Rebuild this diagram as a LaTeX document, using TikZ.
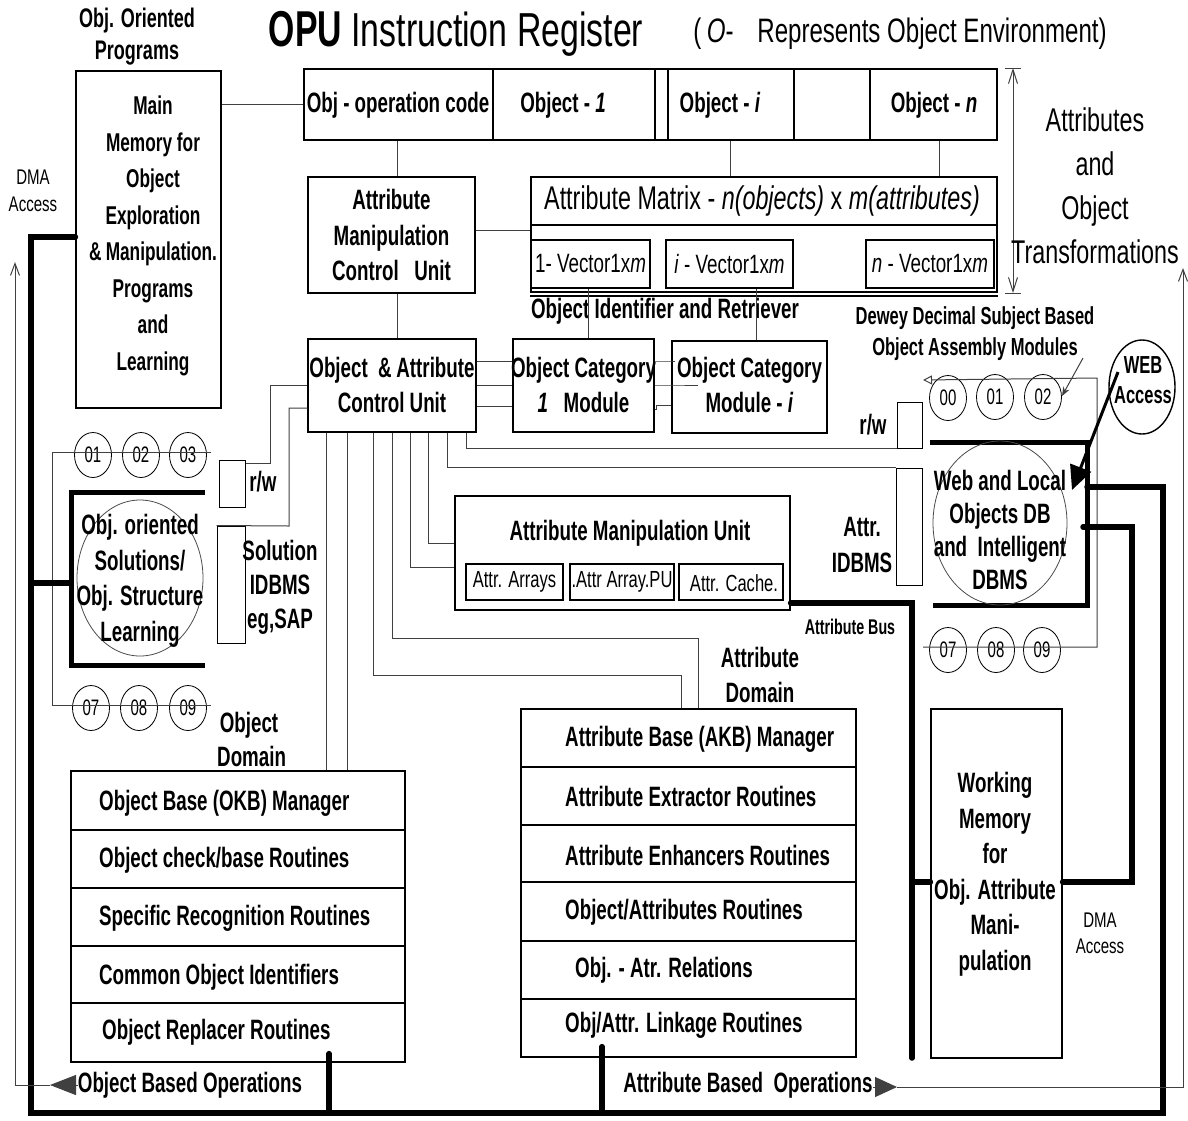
\documentclass[tikz,border=0pt]{standalone}
\usepackage{fontspec}
\setmainfont{Liberation Sans}[Scale=1.06,FakeStretch=0.71]
\newfontfamily\bcond{Liberation Sans}[Scale=1.12,FakeStretch=0.67]
\usetikzlibrary{shapes.geometric,arrows.meta,calc}
\newcommand\myfs[2]{\fontsize{#1}{#2}\selectfont}
\newcommand\bc{\bcond\bfseries}
\begin{document}
\begin{tikzpicture}[x=1pt,y=-1pt,
 box/.style={draw,line width=1.2pt,inner sep=0pt,rectangle},
 tbox/.style={draw,line width=2.2pt,inner sep=0pt,rectangle},
 lbl/.style={inner sep=0pt,align=center,font=\bc\myfs{25}{35.5}},
 rlbl/.style={inner sep=0pt,align=center,font=\myfs{25}{30}},
 thin/.style={line width=1pt,black!75},
 bus/.style={line width=5.5pt,line cap=round},
 oval/.style={draw,ellipse,line width=0.8pt,inner sep=0pt,minimum width=37pt,minimum height=45pt,font=\bcond\myfs{20}{20}},
 barb/.style={-{Straight Barb[length=12pt,width=9pt]}},
]
\fill[white] (0,0) rectangle (1188,1120);
\useasboundingbox (0,0) rectangle (1188,1120);

% ---------- titles
\node[inner sep=0pt,font=\myfs{45}{45}] (title) at (456,34) {{\bc OPU} Instruction Register};
\node[inner sep=0pt,font=\myfs{32}{32}] (env) at (900,34) {(\,\textit{O}-\enspace\ Represents Object Environment)};
\node[lbl,font=\bc\myfs{24}{32}] (oop) at (137,37) {Obj. Oriented\\Programs};

% ---------- main memory
\node[box,minimum width=145pt,minimum height=337pt] (mm) at (148.5,239.5) {};
\node[lbl,font=\bc\myfs{23}{36.5}] (mmt) at (153,236) {Main\\Memory for\\Object\\Exploration\\\&\,Manipulation.\\Programs\\and\\Learning};

% ---------- instruction register
\node[box,minimum width=693pt,minimum height=71pt] (ir) at (650.5,104.5) {};
\foreach \x in {493,655,668,794,870} \draw[line width=1.2pt] (ir.north -| \x,0) -- (ir.south -| \x,0);
\node[lbl] (irop) at (398,105) {Obj - operation code};
\node[lbl] (ir1) at (563,105) {Object - \textit{1}};
\node[lbl] (iri) at (720,105) {Object - \textit{i}};
\node[lbl] (irn) at (934,105) {Object - \textit{n}};
\draw[thin] (ir.west) -- (ir.west -| mm.east);

% ---------- attribute manipulation control unit
\node[box,minimum width=167pt,minimum height=116pt] (amcu) at (391.5,235) {};
\node[lbl] (amcut) at (amcu) {Attribute\\Manipulation\\Control~~~Unit};
\draw[thin] (ir.south -| 397,0) -- (amcu.north -| 397,0);

% ---------- attribute matrix
\node[tbox,minimum width=466pt,minimum height=115pt] (am) at (764,234.5) {};
\draw[line width=2.2pt] (am.west |- 0,225) -- (am.east |- 0,225);
\draw[line width=1.2pt] (am.west |- 0,296) -- (am.east |- 0,296);
\node[inner sep=0pt,font=\myfs{31}{31}] (amt) at (762,201) {Attribute Matrix - \textit{n(objects)} x \textit{m(attributes)}};
\node[tbox,line width=2pt,minimum width=119pt,minimum height=48pt] (v1) at (590.5,264) {};
\node[rlbl] (v1t) at (v1) {1- Vector1x\textit{m}};
\node[tbox,line width=2pt,minimum width=127pt,minimum height=48pt] (vi) at (729.5,264) {};
\node[rlbl] (vit) at (vi) {\textit{i} - Vector1x\textit{m}};
\node[tbox,line width=2pt,minimum width=128pt,minimum height=48pt] (vn) at (930,264) {};
\node[rlbl] (vnt) at (vn) {\textit{n} - Vector1x\textit{m}};
\draw[thin] (ir.south -| 730,0) -- (am.north -| 730,0);
\draw[thin] (ir.south -| 939,0) -- (am.north -| 939,0);
\draw[thin] (amcu.east |- 0,230) -- (am.west |- 0,230);

% ---------- double arrow and transformations
\coordinate (dt) at (1013,68);
\coordinate (db) at (1013,293);
\draw[thin,{Straight Barb[length=14pt,width=9pt]}-{Straight Barb[length=14pt,width=9pt]}] (dt) -- (db);
\draw[thin] ([xshift=-8pt]dt) -- ([xshift=8pt]dt);
\draw[thin] ([xshift=-8pt]db) -- ([xshift=8pt]db);
\node[inner sep=0pt,align=center,font=\myfs{31}{44}] (trans) at (1095,186) {Attributes\\and\\Object\\Transformations};

% ---------- object identifier
\node[lbl] (oir) at (665,311) {Object Identifier and Retriever};
\node[box,minimum width=168pt,minimum height=93pt] (oacu) at (392,385.5) {};
\node[lbl] (oacut) at (392,385) {Object~~\&\,Attribute\\Control Unit};
\node[box,minimum width=141pt,minimum height=93pt] (oc1) at (583.5,385.5) {};
\node[lbl] (oc1t) at (583.5,385) {Object Category\\\textit{1}~~~Module};
\node[box,minimum width=155pt,minimum height=92pt] (oci) at (749.5,387) {};
\node[lbl] (ocit) at (749.5,385) {Object Category\\Module - \textit{i}};
\draw[thin] (amcu.south -| 397,0) -- (oacu.north -| 397,0);
\draw[thin] (v1.south -| 588,0) -- (oc1.north -| 588,0);
\draw[thin] (vi.south -| 756,0) -- (oci.north -| 756,0);
\draw[thin] (oacu.east |- 0,361) -- (oc1.west |- 0,361);
\draw[thin] (oacu.east |- 0,385) -- (oc1.west |- 0,385);
\draw[thin] (oacu.east |- 0,406) -- (oc1.west |- 0,406);
\draw[thin] (oc1.east |- 0,361) -- (oci.west |- 0,361) -- ++(4,0);
\draw[thin] (oc1.east |- 0,385) -- (oci.west |- 0,385) -- ++(27,0);
\draw[thin] (oc1.east |- 0,409) -- ++(2,0) |- (oci.west |- 0,405);

% ---------- left side: r/w, solution IDBMS
\node[box,line width=1pt,minimum width=26pt,minimum height=47pt] (rw1) at (232,483.5) {};
\node[lbl] (rw1t) at (263,482) {r/w};
\node[box,line width=1pt,minimum width=28pt,minimum height=117pt] (sol) at (231,584.5) {};
\node[lbl,font=\bc\myfs{25}{34}] (solt) at (280,587) {Solution\\IDBMS\\eg,SAP};
\draw[thin] (oacu.west |- 0,385) -| (270,463) -- (rw1.east |- 0,463);
\draw[thin] (oacu.west |- 0,408) -| (289,526) -- (sol.north west);

% ---------- circles left
\node[oval] (c01) at (93,455) {01};
\node[oval] (c02) at (141,455) {02};
\node[oval] (c03) at (188,455) {03};
\node[oval] (c07) at (91,708) {07};
\node[oval] (c08) at (139,708) {08};
\node[oval] (c09) at (188,708) {09};
\draw[thin] (c03.east |- 0,452) -- ++(4,0) -- (52,452) -- (52,705) -- (c09.east |- 0,705) -- ++(4,0);

% ---------- learning bracket
\draw[line width=5pt] (205,492) -- (71,492) -- (71,665) -- (205,665);
\node[draw,ellipse,line width=0.8pt,black!70,minimum width=126pt,minimum height=156pt] (learn) at (140,578) {};
\node[lbl] (learnt) at (140,581) {Obj. oriented\\Solutions/\\Obj. Structure\\Learning};

% ---------- attribute manipulation unit and stacks
\node[box,minimum width=335pt,minimum height=114pt] (amu) at (622.5,553) {};
\node[lbl] (amut) at (630,533) {Attribute Manipulation Unit};
\node[box,minimum width=97pt,minimum height=36pt] (arr) at (514.5,582) {};
\node[inner sep=0pt,font=\myfs{22}{22}] (arrt) at (arr) {Attr. Arrays};
\node[box,minimum width=104pt,minimum height=36pt] (apu) at (622,582) {};
\node[inner sep=0pt,font=\myfs{22}{22}] (aput) at (apu) {.Attr Array.PU};
\node[box,minimum width=104pt,minimum height=36pt] (cache) at (731,582) {};
\node[inner sep=0pt,font=\myfs{22}{22}] (cachet) at (734,583) {Attr. Cache.};

\node[box,minimum width=334pt,minimum height=291pt] (ob) at (238,916.5) {};
\node[box,minimum width=335pt,minimum height=348pt] (ab) at (688.5,883) {};

\draw[thin] (oacu.south -| 326,0) -- (ob.north -| 326,0);
\draw[thin] (oacu.south -| 347,0) -- (ob.north -| 347,0);
\draw[thin] (oacu.south -| 373,0) |- (681,675) -- (ab.north -| 681,0);
\draw[thin] (oacu.south -| 392,0) |- (698,638) -- (ab.north -| 698,0);
\draw[thin] (oacu.south -| 410,0) |- (amu.west |- 0,567);
\draw[thin] (oacu.south -| 428,0) |- (amu.west |- 0,543);

% ---------- right middle: r/w, attr IDBMS
\node[box,line width=1pt,minimum width=25pt,minimum height=46pt] (rw2) at (909.5,425) {};
\node[lbl] (rw2t) at (873,425) {r/w};
\node[box,line width=1pt,minimum width=26pt,minimum height=117pt] (idb) at (909,526.5) {};
\node[lbl] (idbt) at (862,545) {Attr.\\IDBMS};
\draw[thin] (oacu.south -| 447,0) |- (idb.north west);
\draw[thin] (oacu.south -| 466,0) |- (rw2.south west);

% ---------- Dewey modules
\node[lbl,font=\bc\myfs{22}{31}] (dewey) at (975,334) {Dewey Decimal Subject Based\\Object Assembly Modules};
\node[oval] (d00) at (948,398) {00};
\node[oval] (d01) at (995,397) {01};
\node[oval] (d02) at (1043,397) {02};
\node[oval] (d07) at (948,650) {07};
\node[oval] (d08) at (996,650) {08};
\node[oval] (d09) at (1042,650) {09};
\draw[thin,{Triangle[open,length=9pt,width=9pt]}-] (923,380) -- (1097,378) -- (1097,647) -- (923,647);
\coordinate (dws) at (1083,358);
\coordinate (dwe) at (1062,396);
\draw[thin,-{Stealth[length=9pt,width=7pt]}] (dws) -- (dwe);

% ---------- web and local DB
\draw[line width=5pt] (930,442) -- (1087,442) -- (1087,605) -- (933,605);
\node[draw,ellipse,line width=0.8pt,black!70,minimum width=134pt,minimum height=164pt] (dbc) at (1000,523) {};
\node[lbl,font=\bc\myfs{25}{33}] (dbt) at (1000,530) {Web and Local\\Objects DB\\and~~Intelligent\\DBMS};
\node[draw,ellipse,line width=1.4pt,minimum width=66pt,minimum height=94pt] (web) at (1142,387) {};
\node[lbl,font=\bc\myfs{22}{30}] (webt) at (1143,380) {WEB\\Access};
\coordinate (wa) at (1072,490);
\draw[line width=3pt,-{Triangle[length=24pt,width=22pt]}] ($(web.center)+(-24,-15)$) -- (wa);

% ---------- working memory
\node[box,minimum width=131pt,minimum height=349pt] (wm) at (996.5,883.5) {};
\node[lbl] (wmt) at (995,874) {Working\\Memory\\for\\Obj. Attribute\\Mani-\\pulation};
\node[inner sep=0pt,align=center,font=\myfs{20}{26}] (dmar) at (1100,933) {DMA\\Access};
\node[inner sep=0pt,align=center,font=\myfs{20}{27}] (dmal) at (33,191) {DMA\\Access};

% ---------- labels
\node[lbl,font=\bc\myfs{19}{19}] (abus) at (850,627) {Attribute Bus};
\node[lbl] (adom) at (760,675) {Attribute\\Domain};
\node[lbl,font=\bc\myfs{25}{34}] (odom) at (249,739) {Object\\~Domain};

% ---------- object base stack
\foreach \y/\w in {830/1.8,888/1.2,946/1.8,1003/1.2} \draw[line width=\w pt] (ob.west |- 0,\y) -- (ob.east |- 0,\y);
\node[lbl,anchor=west] (ob1) at (99,803) {Object Base (OKB) Manager};
\node[lbl,anchor=west] (ob2) at (99,860) {Object check/base Routines};
\node[lbl,anchor=west] (ob3) at (99,918) {Specific Recognition Routines};
\node[lbl,anchor=west] (ob4) at (99,977) {Common Object Identifiers};
\node[lbl,anchor=west] (ob5) at (102,1032) {Object Replacer Routines};

% ---------- attribute base stack
\foreach \y/\w in {767/2,825/2,882/2,941/1.2,999/1.2} \draw[line width=\w pt] (ab.west |- 0,\y) -- (ab.east |- 0,\y);
\node[lbl,anchor=west] (ab1) at (565,739) {Attribute Base (AKB) Manager};
\node[lbl,anchor=west] (ab2) at (565,796) {Attribute Extractor Routines};
\node[lbl,anchor=west] (ab3) at (565,855) {Attribute Enhancers Routines};
\node[lbl,anchor=west] (ab4) at (565,912) {Object/Attributes Routines};
\node[lbl,anchor=west] (ab5) at (575,970) {Obj. - Atr. Relations};
\node[lbl,anchor=west] (ab6) at (565,1025) {Obj/Attr. Linkage Routines};

% ---------- buses
\draw[bus] (mm.west |- 0,237) -- (31,237) -- (31,1113) -- (1163,1113) -- (1163,487) -- (1087,487);
\draw[bus] (31,583) -- (71,583);
\draw[bus] ($(ob.south -| 329,0)+(0,-9)$) -- (329,1113);
\draw[bus] ($(ab.south -| 602,0)+(0,-11)$) -- (602,1113);
\draw[bus] (1083,527) -- (1132,527) -- (1132,882) -- (wm.east |- 0,882);
\draw[bus] (amu.east |- 0,603) -- (912,603) -- (912,1058);
\draw[bus] (912,882) -- (wm.west |- 0,882);

% ---------- operations arrows
\node[lbl] (obo) at (190,1085) {Object Based Operations};
\coordinate (oarr) at (50,1085);
\draw[thin,-{Triangle[length=26pt,width=20pt]}] (obo.west) -- (oarr);
\draw[thin,barb] (oarr) -- (15,1085) -- (15,262);
\node[lbl] (abo) at (748,1085) {Attribute Based~~Operations};
\coordinate (aarr) at (897,1087);
\draw[thin,-{Triangle[length=22pt,width=20pt]}] (abo.east |- aarr) -- (aarr);
\draw[thin,barb] (aarr) -- (1183,1087) -- (1183,268);
\end{tikzpicture}
\end{document}
